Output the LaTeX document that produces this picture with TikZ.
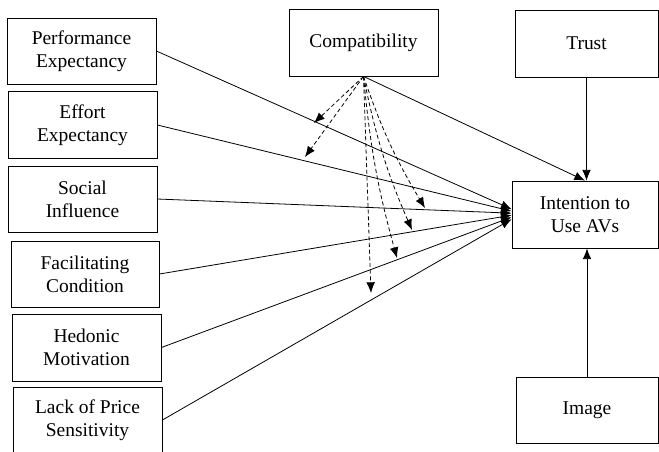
\documentclass[tikz,border=0pt]{standalone}
\usepackage{fontspec}
\setmainfont{Liberation Serif}
\usetikzlibrary{arrows.meta}
\tikzset{
  box/.style={draw,line width=0.6pt,align=center,minimum width=111.75pt,minimum height=49.5pt,
    font=\fontsize{14.6}{17.5}\selectfont},
  link/.style={->,line width=0.6pt},
  mod/.style={->,line width=0.6pt,densely dashed}
}
\begin{document}
\begin{tikzpicture}[x=0.75pt,y=-0.75pt,>={Latex[length=8pt,width=6.5pt]}]
\useasboundingbox (0,0) rectangle (659,451);
\node[box](pe) at (81.5,51){Performance\\Expectancy};
\node[box,minimum height=50.25pt](ee) at (82.5,125){Effort\\Expectancy};
\node[box](si) at (82.5,199){Social\\Influence};
\node[box,minimum width=111pt](fc) at (85,274){Facilitating\\Condition};
\node[box,minimum height=50.25pt](hm) at (86.5,347.5){Hedonic\\Motivation};
\node[box](ps) at (87.5,420){Lack of Price\\Sensitivity};
\node[box,minimum height=50.25pt](cp) at (363.5,42.5){Compatibility};
\node[box,minimum width=107.25pt,minimum height=50.25pt](tr) at (586.5,43.5){Trust};
\node[box,minimum width=109.5pt,minimum height=50.25pt](int) at (585,214.5){Intention to\\Use AVs};
\node[box,minimum width=106.5pt](im) at (587,410){Image};
\coordinate (m1) at (314,123);
\coordinate (m2) at (305,157);
\coordinate (m3) at (425,208);
\coordinate (m4) at (412,230);
\coordinate (m5) at (397,258);
\coordinate (m6) at (371,293);
\draw[link](pe.east)--([yshift=4pt]int.west);
\draw[link](ee.east)--([yshift=2.5pt]int.west);
\draw[link](si.east)--([yshift=1pt]int.west);
\draw[link](fc.east)--([yshift=-0.5pt]int.west);
\draw[link](hm.east)--([yshift=-2pt]int.west);
\draw[link](ps.east)--([yshift=-3.5pt]int.west);
\draw[link](cp.south)--(int.north);
\draw[link](tr.south)--(tr.south|-int.north);
\draw[link](im.north)--(im.north|-int.south);
\draw[mod](cp.south)--(m1);
\draw[mod](cp.south)--(m2);
\draw[mod](cp.south) to[bend right=6] (m3);
\draw[mod](cp.south) to[bend right=6] (m4);
\draw[mod](cp.south) to[bend right=5] (m5);
\draw[mod](cp.south)--(m6);
\end{tikzpicture}
\end{document}
